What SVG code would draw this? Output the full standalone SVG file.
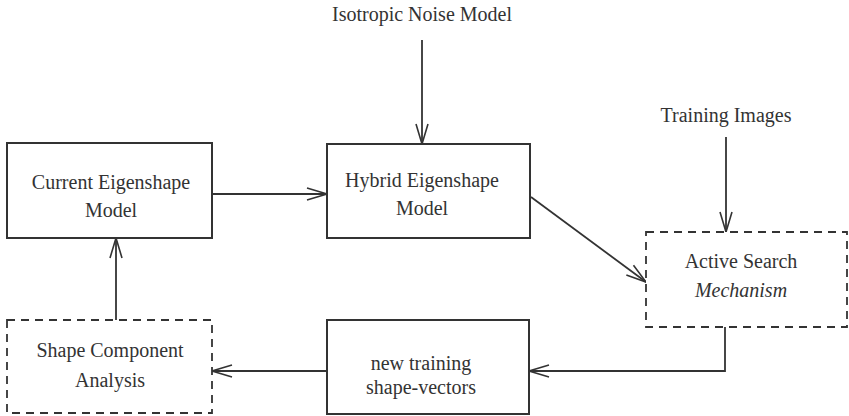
<svg xmlns="http://www.w3.org/2000/svg" width="849" height="416" viewBox="0 0 849 416">
<defs>
<marker id="arr" markerUnits="userSpaceOnUse" viewBox="-22 -8 24 16" refX="0" refY="0" markerWidth="24" markerHeight="16" orient="auto">
<path d="M -20 -6 L 0 0 L -20 6" fill="none" stroke="#333" stroke-width="1.6"/>
</marker>
</defs>
<style>
rect{fill:#fff;stroke:#333;stroke-width:2}
.dash{stroke-dasharray:8 6;stroke-width:1.8}
text{font-family:"Liberation Serif","Times New Roman",serif;font-size:20px;fill:#333;text-anchor:middle}
.it{font-style:italic}
.c{fill:none;stroke:#333;stroke-width:1.8;marker-end:url(#arr)}
</style>
<rect width="849" height="416" style="fill:#fff;stroke:none"/>
<g id="connectors">
<line class="c" x1="422" y1="40" x2="422" y2="144"/>
<line class="c" x1="726" y1="137" x2="726" y2="232"/>
<line class="c" x1="212" y1="194" x2="327" y2="194"/>
<line class="c" x1="531" y1="197" x2="646" y2="282"/>
<line class="c" x1="116" y1="320" x2="116" y2="238"/>
<path class="c" d="M 725 327 V 371 H 529"/>
<line class="c" x1="327" y1="371" x2="212" y2="371"/>
</g>
<g id="isotropic">
<text x="422" y="21">Isotropic Noise Model</text>
</g>
<g id="training-images">
<text x="726" y="122">Training Images</text>
</g>
<g id="current">
<rect x="7" y="143" width="205" height="95"/>
<text x="111" y="189">Current Eigenshape</text>
<text x="111" y="217">Model</text>
</g>
<g id="hybrid">
<rect x="327" y="144" width="203" height="94"/>
<text x="422" y="187">Hybrid Eigenshape</text>
<text x="422" y="215">Model</text>
</g>
<g id="active-search">
<rect class="dash" x="646" y="232" width="201" height="95"/>
<text x="741" y="268">Active Search</text>
<text class="it" x="741" y="297">Mechanism</text>
</g>
<g id="new-training">
<rect x="327" y="320" width="202" height="94"/>
<text x="421" y="370">new training</text>
<text x="421" y="394">shape-vectors</text>
</g>
<g id="shape-component">
<rect class="dash" x="7" y="320" width="205" height="93"/>
<text x="110" y="357">Shape Component</text>
<text x="110" y="387">Analysis</text>
</g>
</svg>
